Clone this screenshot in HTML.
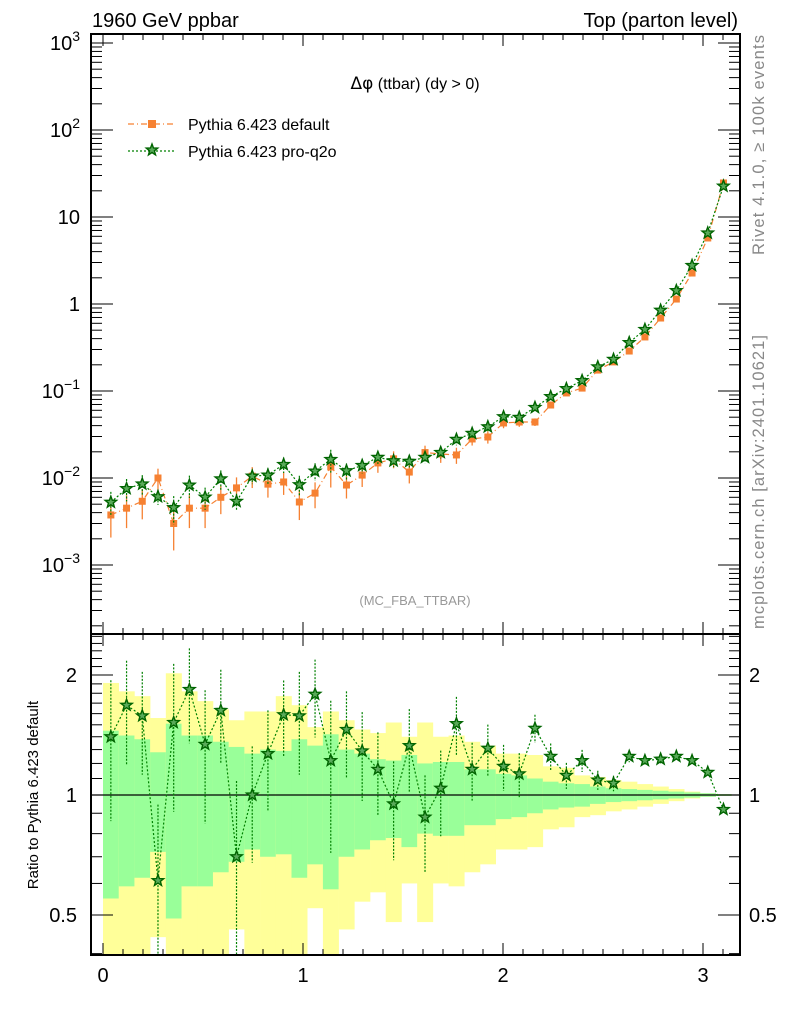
<!DOCTYPE html>
<html><head><meta charset="utf-8"><style>
body{margin:0;background:#fff;}
svg{display:block;font-family:"Liberation Sans",sans-serif;}
</style></head><body>
<svg id="chart" width="786" height="1024" viewBox="0 0 786 1024" xmlns="http://www.w3.org/2000/svg">
<g id="bands"></g>
<g id="marks"></g>
<g id="axes"></g>
<text x="92" y="27" font-size="20">1960 GeV ppbar</text>
<text x="738" y="27" font-size="20" text-anchor="end">Top (parton level)</text>
<text x="415" y="89" font-size="16" text-anchor="middle"><tspan font-family="DejaVu Sans" font-size="17">Δφ</tspan> (ttbar) (dy &gt; 0)</text>
<g>
<g>
<line x1="128" y1="124" x2="176" y2="124" stroke="#f68132" stroke-width="1.3" stroke-dasharray="6,3,1,3"/>
<rect x="148" y="120" width="8" height="8" fill="#f68132"/>
<text x="188" y="130" font-size="16">Pythia 6.423 default</text></g>
<g id="leg2">
<line x1="128" y1="151" x2="176" y2="151" stroke="#008000" stroke-width="1.3" stroke-dasharray="2,2"/>
<text x="188" y="157" font-size="16">Pythia 6.423 pro-q2o</text></g>
</g>
<text x="415" y="605" font-size="13" fill="#999" text-anchor="middle">(MC_FBA_TTBAR)</text>
<text transform="translate(764,145) rotate(-90)" font-size="16.5" fill="#888" text-anchor="middle" textLength="220">Rivet 4.1.0, ≥ 100k events</text>
<text transform="translate(764,482) rotate(-90)" font-size="16.5" fill="#888" text-anchor="middle" textLength="294">mcplots.cern.ch [arXiv:2401.10621]</text>
<text transform="translate(38,795) rotate(-90)" font-size="15" text-anchor="middle">Ratio to Pythia 6.423 default</text>
</svg>
<script>
// ---- data ----
const nBins = 40;
const defaultVals = [0.00376,0.0045,0.0054,0.0100,0.0030,0.0045,0.0045,0.0060,0.0077,0.0105,0.0085,0.0090,0.0053,0.0067,0.0134,0.0083,0.0108,0.0149,0.0166,0.0117,0.0196,0.0189,0.0184,0.0281,0.0296,0.0429,0.044,0.044,0.069,0.095,0.108,0.174,0.216,0.288,0.418,0.69,1.14,2.27,5.74,24.6];
const ratioVals = [1.40,1.68,1.58,0.61,1.52,1.84,1.34,1.63,0.70,1.0,1.27,1.59,1.58,1.79,1.22,1.46,1.29,1.16,0.95,1.33,0.88,1.04,1.51,1.16,1.31,1.18,1.13,1.47,1.25,1.12,1.22,1.09,1.07,1.25,1.22,1.23,1.25,1.22,1.14,0.92];
const statErr = [0.45,0.41,0.38,0.28,0.51,0.41,0.41,0.36,0.32,0.27,0.30,0.29,0.38,0.33,0.42,0.30,0.27,0.23,0.22,0.26,0.20,0.21,0.21,0.16,0.16,0.13,0.12,0.10,0.08,0.07,0.065,0.05,0.04,0.035,0.03,0.025,0.02,0.015,0.01,0.005];
const totErr = [0.91,0.82,0.77,0.56,1.02,0.82,0.72,0.64,0.54,0.62,0.62,0.77,0.68,0.48,0.62,0.54,0.46,0.43,0.52,0.40,0.52,0.40,0.41,0.36,0.33,0.27,0.27,0.26,0.18,0.17,0.12,0.11,0.09,0.08,0.065,0.05,0.035,0.02,0.01,0.005];
const xTicks = [0,1,2,3];
const yTicksMain = [3,2,1,0,-1,-2,-3];
const yTicksRatio = [2,1,0.5];

// ---- geometry ----
const L=91,R=740,T=34,MB=634,RB=955;
const sx = v => 103 + 200*v;
const syM = v => 304 - 87*Math.log10(v);
const syR = v => 795 - 120*Math.log2(v);
const clampM = y => Math.max(T, Math.min(MB, y));
const clampR = y => Math.max(MB, Math.min(RB, y));
const NS="http://www.w3.org/2000/svg";
function mk(tag, attrs, parent){const e=document.createElementNS(NS,tag);for(const k in attrs)e.setAttribute(k,attrs[k]);parent.appendChild(e);return e;}
function starPath(cx,cy,r){let d="";for(let i=0;i<10;i++){const rr=i%2?r*0.42:r;const a=-Math.PI/2+i*Math.PI/5;d+=(i?"L":"M")+(cx+rr*Math.cos(a)).toFixed(2)+","+(cy+rr*Math.sin(a)).toFixed(2);}return d+"Z";}
const SF='#5aaa5a', SS='#006400', SR=6;
const bw = Math.PI/nBins;
const bands=document.getElementById('bands'), marks=document.getElementById('marks'), axes=document.getElementById('axes');

const ls = mk('path',{d:starPath(152,150,SR),fill:SF,stroke:SS,'stroke-width':1.4},document.getElementById('leg2'));



for(let i=0;i<nBins;i++){
  const x0=sx(i*bw), x1=sx((i+1)*bw);
  const lo2=Math.max(1-totErr[i],0.01), lo1=Math.max(1-statErr[i],0.01);
  const yb=mk('rect',{x:x0,y:clampR(syR(1+totErr[i])),width:x1-x0+0.3,height:clampR(syR(lo2))-clampR(syR(1+totErr[i])),fill:'#ffff99'},bands);
  
  
  const gb=mk('rect',{x:x0,y:clampR(syR(1+statErr[i])),width:x1-x0+0.3,height:clampR(syR(lo1))-clampR(syR(1+statErr[i])),fill:'#99ff99'},bands);
  
  
}
const one=mk('line',{x1:L,x2:R,y1:syR(1),y2:syR(1),stroke:'#000','stroke-width':1.3},bands);



const xs=[],oy=[],gy=[],ry=[];
for(let i=0;i<nBins;i++){
  const xv=(i+0.5)*bw; xs.push(sx(xv));
  oy.push(syM(defaultVals[i])); gy.push(syM(defaultVals[i]*ratioVals[i])); ry.push(syR(ratioVals[i]));
}
const oLine=mk('polyline',{points:xs.map((x,i)=>x+','+oy[i]).join(' '),fill:'none',stroke:'#f68132','stroke-width':1.2,'stroke-dasharray':'6,3,1,3'},marks);


const gLine=mk('polyline',{points:xs.map((x,i)=>x+','+gy[i]).join(' '),fill:'none',stroke:'#008000','stroke-width':1.2,'stroke-dasharray':'2,2'},marks);


const rLine=mk('polyline',{points:xs.map((x,i)=>x+','+ry[i]).join(' '),fill:'none',stroke:'#008000','stroke-width':1.2,'stroke-dasharray':'2,2'},marks);



for(let i=0;i<nBins;i++){
  const v=defaultVals[i], e=statErr[i], r=ratioVals[i], ge=statErr[i]*1.2;
  const oe=mk('line',{x1:xs[i],x2:xs[i],y1:clampM(syM(v*(1+e))),y2:clampM(syM(Math.max(v*(1-e),1e-6))),stroke:'#f68132','stroke-width':1.3},marks);
  
  
  const sq=mk('rect',{x:xs[i]-3.5,y:oy[i]-3.5,width:7,height:7,fill:'#f68132'},marks);
  
  
  const gv=v*r, gr=e*0.7;
  const ge1=mk('line',{x1:xs[i],x2:xs[i],y1:clampM(syM(gv*(1+gr))),y2:clampM(syM(Math.max(gv*(1-gr),1e-6))),stroke:'#008000','stroke-width':1.2,'stroke-dasharray':'2,1.5'},marks);
  
  
  const st=mk('path',{d:starPath(xs[i],gy[i],SR),fill:SF,stroke:SS,'stroke-width':1.4},marks);
  
  
  const re=mk('line',{x1:xs[i],x2:xs[i],y1:clampR(syR(r+ge)),y2:clampR(syR(Math.max(r-ge,0.01))),stroke:'#008000','stroke-width':1.2,'stroke-dasharray':'2,1.5'},marks);
  
  
  const rs=mk('path',{d:starPath(xs[i],ry[i],SR),fill:SF,stroke:SS,'stroke-width':1.4},marks);
  
  
}

const f1=mk('rect',{x:L,y:T,width:R-L,height:MB-T,fill:'none',stroke:'#000','stroke-width':2},axes);


const f2=mk('rect',{x:L,y:MB,width:R-L,height:RB-MB,fill:'none',stroke:'#000','stroke-width':2},axes);



for(let k=0;k<=31;k++){
  const v=k/10, x=sx(v); if(x>R) continue;
  const len=(k%10===0)?12:6;
  [MB,RB].forEach(yb=>{
    const t=mk('line',{x1:x,x2:x,y1:yb,y2:yb-len,stroke:'#000','stroke-width':1},axes);
    
    
    const t2=mk('line',{x1:x,x2:x,y1:yb===MB?T:MB,y2:(yb===MB?T:MB)+len,stroke:'#000','stroke-width':1},axes);
    
    
  });
}
xTicks.forEach(v=>{
  const t=mk('text',{x:sx(v),y:982,'font-size':20,'text-anchor':'middle'},axes);
  t.textContent=v;
  
  
});
for(let d=-4;d<=3;d++){
  for(let m=1;m<10;m++){
    const y=syM(m*Math.pow(10,d)); if(y<T||y>MB) continue;
    const len=m===1?22:11;
    [[L,L+len],[R,R-len]].forEach(p=>{
      const t=mk('line',{x1:p[0],x2:p[1],y1:y,y2:y,stroke:'#000','stroke-width':1},axes);
      
      
    });
  }
}
yTicksMain.forEach(p=>{
  const y=syM(Math.pow(10,p));
  const t=mk('text',{x:80,y:y+7,'font-size':20,'text-anchor':'end'},axes);
  
  
  if(p===1) t.textContent='10';
  else if(p===0) t.textContent='1';
  else { t.textContent='10'; const s=mk('tspan',{dy:-9,'font-size':14},t); s.textContent=(p<0?'−':'')+Math.abs(p); }
});
const rt=[0.4,0.5,0.6,0.7,0.8,0.9,1,1.1,1.2,1.3,1.4,1.5,1.6,1.7,1.8,1.9,2,2.1,2.2,2.3,2.4,2.5];
rt.forEach(v=>{
  const y=syR(v); if(y<MB||y>RB) return;
  const len=(v===0.5||v===1||v===2)?22:11;
  [[L,L+len],[R,R-len]].forEach(p=>{
    const t=mk('line',{x1:p[0],x2:p[1],y1:y,y2:y,stroke:'#000','stroke-width':1},axes);
    
    
  });
});
yTicksRatio.forEach(v=>{
  [[77,'end'],[749,'start']].forEach(p=>{
    const t=mk('text',{x:p[0],y:syR(v)+7,'font-size':20,'text-anchor':p[1]},axes);
    t.textContent=v;
    
    
  });
});
</script>
</body></html>
